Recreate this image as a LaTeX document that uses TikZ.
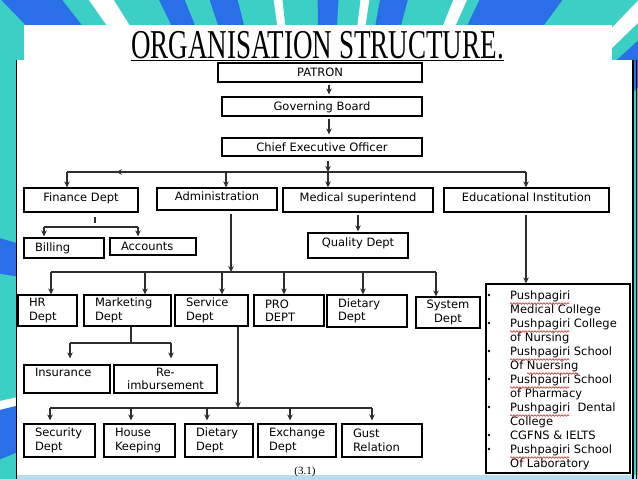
\documentclass[tikz,border=0pt]{standalone}
\usepackage{fontspec}
\usepackage{graphicx}
\setmainfont{DejaVu Sans}
\newfontfamily\titlefont{Liberation Serif}
\usetikzlibrary{arrows.meta,decorations.pathmorphing}

\definecolor{slideteal}{HTML}{3CCFC6}
\definecolor{slideblue}{HTML}{2B6FE8}
\definecolor{slidelight}{HTML}{B8DDF0}
\definecolor{linegray}{HTML}{2E2E2E}
\definecolor{spellred}{HTML}{D42020}

\tikzset{
    box/.style={draw=black, line width=1.1pt, inner sep=0pt, fill=white,
        font=\fontsize{11.5}{13.5}\selectfont},
    midbox/.style={box, text height=8.5pt, text depth=0pt},
    topbox/.style={box, text height=8.5pt, text depth=6pt},
    lbox/.style={box, align=left, inner xsep=11pt},
    cbox/.style={box, align=center},
    wire/.style={draw=linegray, line width=1.2pt},
    arr/.style={wire, -{Stealth[length=6pt,width=5.5pt]}},
    squiggle/.style={draw=spellred, line width=0.6pt, decorate,
        decoration={snake, amplitude=0.8pt, segment length=3pt}}
}

\begin{document}
\begin{tikzpicture}[x=1pt, y=-1pt]
    \useasboundingbox (0,0) rectangle (638,479);

    % Slide background with rays
    \fill[slideteal] (0,0) rectangle (638,479);
    \foreach \a/\w in {158/8, 190/6, 226/6, 244/3.7, 251.5/4.5, 269.6/3.6, 280.3/4.6, 295.8/10.5, 317.7/5}
        \fill[slideblue] (320,330) -- +(\a:900) -- +({\a+\w}:900) -- cycle;
    \foreach \a/\w in {166/1.5, 235/3, 262/1.5, 277/1.5, 292/2, 314/2}
        \fill[white] (320,330) -- +(\a:900) -- +({\a+\w}:900) -- cycle;

    % Slide panel
    \fill[white] (24,25) rectangle (612,60);
    \fill[white] (16,60) rectangle (634,479);
    \fill[slidelight] (16,475) rectangle (638,479);
    \draw[line width=1.2pt] (16.5,60) -- (16.5,479);
    \draw[line width=1.3pt] (633,60) -- (633,479);
    \draw[line width=0.8pt] (636,60) -- (636,479);

    % Title
    \node[inner sep=0pt, anchor=base, font=\titlefont\fontsize{41}{41}\selectfont] (title) at (317.5,58)
        {\scalebox{0.66}[1]{ORGANISATION STRUCTURE.}};
    \draw[line width=1.3pt] ([yshift=-2.5pt]title.base west) -- ([yshift=-2.5pt]title.base east);

    % Top of the chart
    \node[midbox, minimum width=204pt, minimum height=19pt] (patron) at (320,72.5) {PATRON};
    \node[midbox, minimum width=200pt, minimum height=19pt] (gb) at (322,106.5) {Governing Board};
    \node[midbox, minimum width=200pt, minimum height=18pt] (ceo) at (322,147) {Chief Executive Officer};

    % Second level
    \node[topbox, minimum width=114pt, minimum height=24pt] (fin) at (81,200) {Finance Dept};
    \node[topbox, minimum width=120pt, minimum height=22pt] (admin) at (217,199) {Administration};
    \node[topbox, minimum width=150pt, minimum height=24pt] (med) at (358,200) {Medical superintend};
    \node[topbox, minimum width=165pt, minimum height=24pt] (edu) at (526.5,200) {Educational Institution};

    \node[lbox, text width=58pt, minimum height=20pt] (billing) at (64,248) {Billing};
    \node[lbox, text width=64pt, minimum height=17pt] (accounts) at (153,246.5) {Accounts};
    \node[topbox, minimum width=100pt, minimum height=25pt] (quality) at (358,245.5) {Quality Dept};

    % Third level
    \node[lbox, text width=37pt, minimum height=31pt] (hr) at (47.5,310.5) {HR\\Dept};
    \node[lbox, text width=65pt, minimum height=31pt] (mkt) at (127.5,310.5) {Marketing\\Dept};
    \node[lbox, text width=51pt, minimum height=31pt] (svc) at (211.5,310.5) {Service\\Dept};
    \node[lbox, text width=48pt, minimum height=31pt] (pro) at (289,310.5) {PRO\\DEPT};
    \node[lbox, text width=58pt, minimum height=32pt] (diet) at (367,311) {Dietary\\Dept};
    \node[cbox, minimum width=64pt, minimum height=31pt] (sys) at (448,312.5) {System\\Dept};

    \node[lbox, text width=64pt, minimum height=28pt] (ins) at (67,379) {Insurance\\\mbox{}};
    \node[cbox, minimum width=103pt, minimum height=28pt] (reimb) at (165.5,379) {Re-\\imbursement};

    % Fourth level
    \node[lbox, text width=49pt, minimum height=33pt] (sec) at (59.5,440.5) {Security\\Dept};
    \node[lbox, text width=49pt, minimum height=33pt] (house) at (139.5,440.5) {House\\Keeping};
    \node[lbox, text width=46pt, minimum height=33pt] (diettwo) at (219,440.5) {Dietary\\Dept};
    \node[lbox, text width=56pt, minimum height=33pt] (exch) at (297,440.5) {Exchange\\Dept};
    \node[lbox, text width=58pt, minimum height=33pt] (gust) at (382,440.5) {Gust\\Relation};

    % Institutions
    \node[box, minimum width=144pt, minimum height=189pt] (list) at (558,378.5) {};
    \node[anchor=north west, align=left, inner sep=0pt, font=\fontsize{11.5}{14}\selectfont] (listtext) at (510,291)
        {Pushpagiri\\Medical College\\Pushpagiri College\\of Nursing\\Pushpagiri School\\Of Nuersing\\
         Pushpagiri School\\of Pharmacy\\Pushpagiri\ \ Dental\\College\\CGFNS \& IELTS\\Pushpagiri School\\Of Laboratory};
    \foreach \y in {295,323,351,379,407,435,449}
        \fill (489,\y) circle (1.3pt);
    \foreach \y in {303.5,331.5,359.5,387.5,415.5,457.5}
        \draw[squiggle] (510,\y) -- (569,\y);
    \draw[squiggle] (527,373.5) -- (578,373.5);

    \node[font=\titlefont\fontsize{11}{11}\selectfont] (fig) at (305,472) {(3.1)};

    % Connectors at the top
    \draw[arr, shorten <=2pt, shorten >=2pt] ([xshift=9pt]patron.south) -- ([xshift=7pt]gb.north);
    \draw[arr, shorten <=2pt, shorten >=3pt] ([xshift=7pt]gb.south) -- ([xshift=7pt]ceo.north);
    \coordinate (ceobus) at (328,172);
    \draw[arr, shorten <=4pt] ([xshift=6pt]ceo.south) -- (ceobus);

    % Second level lines
    \coordinate (busL) at (67,172);
    \coordinate (busR) at (526,172);
    \coordinate (stray) at (116,172);
    \draw[wire] (busL) -- (busR);
    \draw[arr] ([xshift=6pt]stray) -- (stray);
    \draw[arr] (busL) -- (busL |- fin.north);
    \coordinate (dadmin) at ([xshift=9pt]admin.north);
    \draw[arr] (dadmin |- busL) -- (dadmin);
    \draw[arr] (ceobus) -- (ceobus |- med.north);
    \draw[arr] (busR) -- (busR |- edu.north);

    % Finance branch
    \coordinate (fintick) at (95,217);
    \draw[wire] (fintick) -- ++(0,6);
    \coordinate (finL) at (44,227);
    \coordinate (finR) at (138,227);
    \draw[wire] (finL) -- (finR);
    \draw[arr, shorten >=1pt] (finL) -- (finL |- billing.north);
    \draw[arr, shorten >=1pt] (finR) -- (finR |- accounts.north);

    % Medical and education branch
    \draw[arr, shorten <=2pt, shorten >=1pt] (med.south) -- (quality.north);
    \draw[arr, shorten <=2pt] ([xshift=-0.5pt]edu.south) -- ([xshift=-0.5pt]edu.south |- list.north);

    % Third level lines
    \coordinate (bus3) at (231,272);
    \draw[arr, shorten <=3pt] ([xshift=14pt]admin.south) -- (bus3);
    \foreach \n/\s in {hr/3.5, mkt/17.5, svc/10.5, pro/-5, diet/-4, sys/-12}
        \coordinate (d\n) at ([xshift=\s pt]\n.north);
    \draw[wire] (dhr |- bus3) -- (dsys |- bus3);
    \foreach \n in {hr, mkt, svc, pro, diet, sys}
        \draw[arr] (d\n |- bus3) -- (d\n);

    % Marketing branch
    \coordinate (mktbus) at (131,343);
    \draw[wire] ([xshift=3.5pt]mkt.south) -- (mktbus);
    \coordinate (insL) at (70,343);
    \coordinate (insR) at (171,343);
    \draw[wire] (insL) -- (insR);
    \draw[arr, shorten >=6pt] (insL) -- (insL |- ins.north);
    \draw[arr, shorten >=6pt] (insR) -- (insR |- reimb.north);

    % Fourth level lines
    \coordinate (bus4) at (238,408);
    \draw[arr] ([xshift=26.5pt]svc.south) -- (bus4);
    \foreach \n/\s in {sec/-9.5, house/-8.5, diettwo/-12, exch/-7, gust/-10}
        \coordinate (d\n) at ([xshift=\s pt]\n.north);
    \draw[wire] (dsec |- bus4) -- (dgust |- bus4);
    \foreach \n in {sec, house, diettwo, exch, gust}
        \draw[arr, shorten >=3pt] (d\n |- bus4) -- (d\n);
\end{tikzpicture}
\end{document}
